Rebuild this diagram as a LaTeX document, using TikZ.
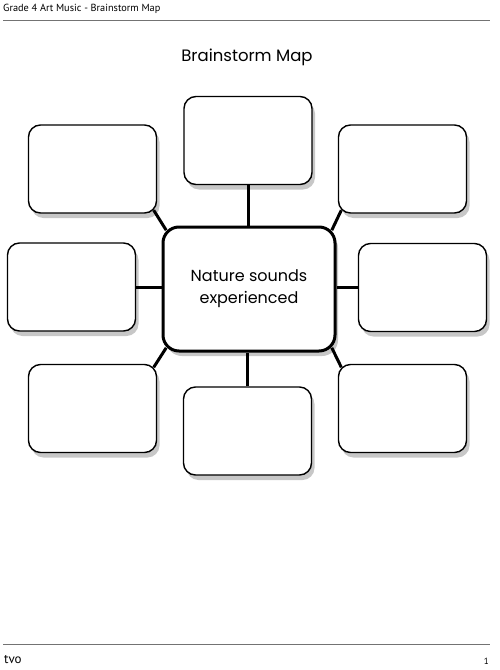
\documentclass[tikz,border=0pt]{standalone}
\usepackage{fontspec}
\setmainfont{Poppins}
\newfontfamily\hdr{PT Sans}
\usetikzlibrary{shadows}
\begin{document}
\begin{tikzpicture}[x=1pt,y=-1pt,
  shad/.style={drop shadow={shadow xshift=3pt,shadow yshift=-5pt,fill=black!22,opacity=1}},
  box/.style={draw,line width=1.4pt,rounded corners=12pt,fill=white,inner sep=0pt,
    minimum width=128pt,minimum height=88pt,shad},
  hub/.style={draw,line width=3pt,rounded corners=16pt,fill=white,inner sep=0pt,
    minimum width=172pt,minimum height=124pt,align=center,font=\fontsize{16}{22}\selectfont,shad},
  link/.style={line width=3pt},
  rule/.style={draw=black!55,line width=1pt}]
\useasboundingbox (0,0) rectangle (500,670);
% header / footer
\node[anchor=west,font=\hdr\fontsize{10.3}{13}\selectfont,inner sep=0pt] (hd) at (3,9) {Grade 4 Art Music - Brainstorm Map};
\path[rule] (3,20) -- (490,20);
\path[rule] (3,644) -- (490,644);
\node[anchor=west,font=\hdr\fontsize{13}{15}\selectfont,inner sep=0pt] (logo) at (4,660) {tvo};
\node[anchor=east,font=\hdr\fontsize{9}{11}\selectfont,inner sep=0pt] (pg) at (489,661) {1};
\node[font=\fontsize{16.5}{22}\selectfont] (title) at (247,57) {Brainstorm Map};
% boxes
\node[hub] (c) at (249,289) {Nature sounds\\experienced};
\node[box] (t) at (248,140.5) {};
\node[box] (tl) at (92.5,169) {};
\node[box] (tr) at (402.5,169) {};
\node[box] (l) at (71.5,287) {};
\node[box] (r) at (422.5,287.5) {};
\node[box] (bl) at (92.5,408.5) {};
\node[box] (b) at (247.5,431) {};
\node[box] (br) at (402.5,408.5) {};
% links
\draw[link] (t.south) -- (t.south |- c.north);
\draw[link] (b.north) -- (b.north |- c.south);
\draw[link] (l.east) -- (l.east -| c.west);
\draw[link] (r.west) -- (r.west -| c.east);
\draw[link] ([shift={(-3.5,-3.5)}]tl.south east) -- ([shift={(4.7,4.7)}]c.north west);
\draw[link] ([shift={(3.5,-3.5)}]tr.south west) -- ([shift={(-4.7,4.7)}]c.north east);
\draw[link] ([shift={(-3.5,3.5)}]bl.north east) -- ([shift={(4.7,-4.7)}]c.south west);
\draw[link] ([shift={(3.5,3.5)}]br.north west) -- ([shift={(-4.7,-4.7)}]c.south east);
\end{tikzpicture}
\end{document}
